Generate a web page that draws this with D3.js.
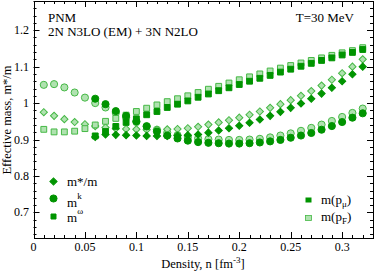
<!DOCTYPE html>
<html lang="en">
<head>
<meta charset="UTF-8">
<title>Effective mass PNM</title>
<script src="https://d3js.org/d3.v7.min.js"></script>
<style>
  body { margin: 0; background: #fff; }
</style>
</head>
<body>
<svg id="chart" width="374" height="273" font-family="'Liberation Serif', 'Times New Roman', serif"></svg>
<script>
// density grid [fm^-3]
const density = [0.01, 0.02, 0.03, 0.04, 0.05, 0.06, 0.07, 0.08, 0.09, 0.10,
                 0.11, 0.12, 0.13, 0.14, 0.15, 0.16, 0.17, 0.18, 0.19, 0.20,
                 0.21, 0.22, 0.23, 0.24, 0.25, 0.26, 0.27, 0.28, 0.29, 0.30,
                 0.31, 0.32];

// m(p_mu) series, dark symbols (start at 0.06)
const mStarMu = [null, null, null, null, null, 0.907, 0.914, 0.913, 0.912, 0.911,
                 0.910, 0.910, 0.910, 0.911, 0.912, 0.914, 0.919, 0.925, 0.931, 0.938,
                 0.946, 0.955, 0.965, 0.976, 0.987, 0.999, 1.012, 1.026, 1.042, 1.060,
                 1.079, 1.100];
const mKMu = [null, null, null, null, null, 1.012, 0.997, 0.978, 0.965, 0.950,
              0.936, 0.922, 0.911, 0.903, 0.897, 0.893, 0.891, 0.890, 0.889, 0.889,
              0.890, 0.892, 0.895, 0.899, 0.905, 0.911, 0.918, 0.927, 0.937, 0.948,
              0.960, 0.972];
const mWMu = [null, null, null, null, null, 0.910, 0.922, 0.936, 0.947, 0.957,
              0.968, 0.977, 0.988, 0.997, 1.006, 1.016, 1.025, 1.034, 1.042, 1.051,
              1.060, 1.068, 1.076, 1.085, 1.093, 1.101, 1.109, 1.117, 1.124, 1.132,
              1.139, 1.147];

// m(p_F) series, light symbols
const mStarF = [0.975, 0.965, 0.956, 0.948, 0.942, 0.937, 0.933, 0.930, 0.929, 0.928,
                0.927, 0.927, 0.928, 0.929, 0.931, 0.935, 0.941, 0.947, 0.953, 0.960,
                0.968, 0.977, 0.987, 0.997, 1.008, 1.020, 1.033, 1.048, 1.064, 1.082,
                1.100, 1.120];
const mKF = [1.050, 1.052, 1.043, 1.029, 1.015, 1.000, 0.988, 0.973, 0.960, 0.948,
             0.937, 0.927, 0.919, 0.912, 0.907, 0.903, 0.901, 0.900, 0.899, 0.899,
             0.900, 0.902, 0.906, 0.911, 0.917, 0.924, 0.932, 0.941, 0.951, 0.962,
             0.973, 0.985];
const mWF = [0.928, 0.921, 0.921, 0.923, 0.930, 0.940, 0.950, 0.958, 0.967, 0.977,
             0.986, 0.995, 1.004, 1.012, 1.020, 1.029, 1.038, 1.046, 1.055, 1.064,
             1.072, 1.080, 1.088, 1.096, 1.103, 1.110, 1.117, 1.124, 1.131, 1.138,
             1.144, 1.152];

const xTicks = [0, 0.05, 0.1, 0.15, 0.2, 0.25, 0.3];
const yTicks = [0.7, 0.8, 0.9, 1.0, 1.1, 1.2];

const dark = "#009400", lightFill = "#b0e2b0", lightStroke = "#45b845";

const svg = d3.select("#chart");
const margin = {left: 33.5, right: 1, top: 1, bottom: 35};
const W = 374, H = 273;

const x = d3.scaleLinear().domain([0, 0.33]).range([margin.left, W - margin.right]);
const y = d3.scaleLinear().domain([0.63, 1.28]).range([H - margin.bottom, margin.top]);

// ticks (inward, on all four sides)
const xMinor = d3.range(0, 0.331, 0.01);
const yMinor = d3.range(0.64, 1.281, 0.02);
const tk = svg.append("g").attr("stroke", "#000").attr("stroke-width", 1);
xMinor.forEach(v => {
  const major = xTicks.some(t => Math.abs(t - v) < 1e-6);
  const len = major ? 6 : 3;
  const px = Math.round(x(v)) + 0.5;
  tk.append("line").attr("x1", px).attr("x2", px).attr("y1", y.range()[0]).attr("y2", y.range()[0] - len);
  tk.append("line").attr("x1", px).attr("x2", px).attr("y1", y.range()[1]).attr("y2", y.range()[1] + len);
});
yMinor.forEach(v => {
  const major = yTicks.some(t => Math.abs(t - v) < 1e-6);
  const len = major ? 6 : 3;
  const py = Math.round(y(v)) + 0.5;
  tk.append("line").attr("y1", py).attr("y2", py).attr("x1", x.range()[0]).attr("x2", x.range()[0] + len);
  tk.append("line").attr("y1", py).attr("y2", py).attr("x1", x.range()[1]).attr("x2", x.range()[1] - len);
});

// frame
svg.append("rect")
  .attr("x", Math.round(x.range()[0]) + 0.5).attr("y", y.range()[1] + 0.5)
  .attr("width", Math.round(x.range()[1] - x.range()[0]) - 1)
  .attr("height", y.range()[0] - y.range()[1])
  .attr("fill", "none").attr("stroke", "#000");

// tick labels
svg.append("g").selectAll("text").data(xTicks).join("text")
  .attr("x", d => x(d)).attr("y", 251)
  .attr("text-anchor", "middle").attr("font-size", 12)
  .text(d => d === 0 ? "0" : d3.format("")(d));
svg.append("g").selectAll("text").data(yTicks).join("text")
  .attr("x", 29).attr("y", d => y(d) + 4)
  .attr("text-anchor", "end").attr("font-size", 12)
  .text(d => d3.format("")(d));

// axis titles
const xl = svg.append("text").attr("x", 203).attr("y", 268).attr("text-anchor", "middle").attr("font-size", 12.5);
xl.append("tspan").text("Density, n [fm");
xl.append("tspan").attr("dy", -5).attr("font-size", 9).text("-3");
xl.append("tspan").attr("dy", 5).text("]");
svg.append("text").attr("transform", "translate(11,120) rotate(-90)")
  .attr("text-anchor", "middle").attr("font-size", 12.5).text("Effective mass, m*/m");

// markers
const diamond = d3.symbol().type(d3.symbolSquare).size(26);
const circle = d3.symbol().type(d3.symbolCircle).size(40);
const square = d3.symbol().type(d3.symbolSquare).size(34);

function plot(values, sym, rot, fill, stroke) {
  const pts = density.map((d, i) => ({d, v: values[i]})).filter(p => p.v != null);
  svg.append("g").selectAll("path").data(pts).join("path")
    .attr("d", sym)
    .attr("transform", p => `translate(${x(p.d)},${y(p.v)}) rotate(${rot})`)
    .attr("fill", fill).attr("stroke", stroke).attr("stroke-width", 1);
}

plot(mKF, circle, 0, lightFill, lightStroke);
plot(mStarF, diamond, 45, lightFill, lightStroke);
plot(mWF, square, 0, lightFill, lightStroke);
plot(mKMu, circle, 0, dark, dark);
plot(mStarMu, diamond, 45, dark, dark);
plot(mWMu, square, 0, dark, dark);

// annotations
svg.append("text").attr("x", 48).attr("y", 22).attr("font-size", 13).text("PNM");
svg.append("text").attr("x", 48).attr("y", 35.5).attr("font-size", 13).text("2N N3LO (EM) + 3N N2LO");
svg.append("text").attr("x", 354).attr("y", 22).attr("text-anchor", "end").attr("font-size", 13).text("T=30 MeV");

// left legend
const lg = svg.append("g");
lg.append("path").attr("d", diamond).attr("transform", "translate(53.5,181.5) rotate(45)").attr("fill", dark).attr("stroke", dark);
lg.append("path").attr("d", circle).attr("transform", "translate(53.5,198.5)").attr("fill", dark).attr("stroke", dark);
lg.append("path").attr("d", d3.symbol().type(d3.symbolSquare).size(25)).attr("transform", "translate(53.5,216.5)").attr("fill", dark).attr("stroke", dark);
lg.append("text").attr("x", 67).attr("y", 186).attr("font-size", 13).text("m*/m");
const mk = lg.append("text").attr("x", 67).attr("y", 206.5).attr("font-size", 13);
mk.append("tspan").text("m");
mk.append("tspan").attr("dy", -8).attr("font-size", 9).text("k");
const mw = lg.append("text").attr("x", 67).attr("y", 222).attr("font-size", 13);
mw.append("tspan").text("m");
mw.append("tspan").attr("dy", -8).attr("font-size", 9).text("ω");

// right legend
const rg = svg.append("g");
rg.append("rect").attr("x", 305.5).attr("y", 197.5).attr("width", 6).attr("height", 5).attr("fill", dark);
rg.append("rect").attr("x", 305.5).attr("y", 215.5).attr("width", 6).attr("height", 5).attr("fill", lightFill).attr("stroke", lightStroke).attr("stroke-width", 0.8);
const rp = rg.append("text").attr("x", 321).attr("y", 204).attr("font-size", 13);
rp.append("tspan").text("m(p");
rp.append("tspan").attr("dy", 3).attr("font-size", 9).text("μ");
rp.append("tspan").attr("dy", -3).text(")");
const rf = rg.append("text").attr("x", 321).attr("y", 221).attr("font-size", 13);
rf.append("tspan").text("m(p");
rf.append("tspan").attr("dy", 3).attr("font-size", 9).text("F");
rf.append("tspan").attr("dy", -3).text(")");
</script>
</body>
</html>
